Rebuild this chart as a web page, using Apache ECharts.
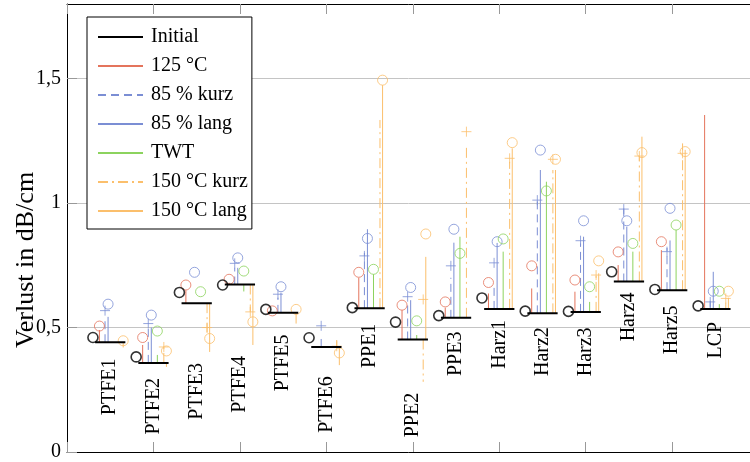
<!DOCTYPE html>
<html>
<head>
<meta charset="utf-8">
<script src="https://cdn.jsdelivr.net/npm/echarts@6/dist/echarts.min.js"></script>
<style>
html, body { margin: 0; padding: 0; background: #fff; }
#chart { width: 750px; height: 462px; }
</style>
</head>
<body>
<div id="chart"></div>
<script>
// Proben (x = 1..15)
const categories = ['PTFE1', 'PTFE2', 'PTFE3', 'PTFE4', 'PTFE5', 'PTFE6', 'PPE1', 'PPE2', 'PPE3',
  'Harz1', 'Harz2', 'Harz3', 'Harz4', 'Harz5', 'LCP'];
const yTicks = [0, 0.5, 1, 1.5];

// Initial: waagerechte Linie und Kreis
const initialLine = [0.441, 0.358, 0.598, 0.673, 0.559, 0.422, 0.578, 0.452, 0.539, 0.575, 0.557, 0.563, 0.685, 0.650, 0.575];
const initialMark = [0.460, 0.382, 0.641, 0.671, 0.573, 0.459, 0.580, 0.522, 0.548, 0.619, 0.566, 0.565, 0.724, 0.653, 0.587];

// Marker (Kreis / Plus) je Bedingung
const mark125 = [0.506, 0.460, 0.671, 0.694, 0.567, null, 0.722, 0.590, 0.603, 0.681, 0.748, 0.691, 0.804, 0.845, null];
const mark85k = [0.568, 0.516, null, 0.758, 0.634, 0.507, 0.788, 0.624, 0.748, 0.760, 1.012, 0.849, 0.976, 0.805, 0.603];
const mark85l = [0.594, 0.550, 0.722, 0.780, 0.664, null, 0.858, 0.661, 0.895, 0.845, 1.213, 0.929, 0.929, 0.979, 0.646];
const markTWT = [null, 0.486, 0.644, 0.727, null, null, 0.734, 0.527, 0.798, 0.856, 1.049, 0.664, 0.838, 0.912, 0.646];
const mark150k = [null, 0.422, 0.500, 0.563, null, 0.425, null, 0.613, 1.287, 1.180, 1.176, 0.711, 1.189, 1.200, 0.617];
const mark150l = [0.447, 0.406, 0.456, 0.523, 0.573, 0.398, 1.494, 0.876, null, 1.243, 1.176, 0.768, 1.203, 1.207, 0.646];

// Linienende (Linie geht von der Initial-Linie bis hierhin)
const stem125 = [0.490, 0.430, 0.650, 0.680, null, null, 0.700, 0.570, 0.580, 0.637, 0.657, 0.644, 0.751, 0.811, 1.354];
const stem85k = [0.543, 0.510, null, 0.740, 0.620, 0.460, 0.800, 0.600, 0.700, 0.670, 1.010, 0.838, 0.986, 0.820, 0.623];
const stem85l = [0.543, 0.500, null, 0.740, 0.640, null, 0.895, 0.610, 0.841, 0.840, 1.133, 0.865, 0.905, 0.850, 0.724];
const stemTWT = [null, 0.390, null, 0.645, null, null, 0.714, 0.470, 0.865, 0.805, 1.086, 0.603, 0.805, 0.892, 0.594];
const stem150k = [null, 0.430, 0.480, 0.563, null, 0.450, 1.334, 0.282, 1.227, 1.166, 1.133, 0.724, 1.190, 1.240, 0.600];
const stem150l = [0.420, 0.342, 0.402, 0.430, 0.516, 0.349, 1.474, 0.784, null, 1.220, 1.133, 0.718, 1.267, 1.214, 0.620];

const FONT = 'Liberation Serif';
const PLUS = 'path://M5,0L5,10M0,5L10,5';

// Bedingungen: Name, Farbe, Versatz, Linienart, Marker
const conditions = [
  { name: '125 °C', color: '#e4745c', off: -0.25, dash: 'solid', symbol: 'circle', mark: mark125, stem: stem125 },
  { name: '85 % kurz', color: '#7b8ed4', off: -0.12, dash: [8, 5], symbol: PLUS, mark: mark85k, stem: stem85k },
  { name: '85 % lang', color: '#7b8ed4', off: -0.05, dash: 'solid', symbol: 'circle', mark: mark85l, stem: stem85l },
  { name: 'TWT', color: '#8cd35e', off: 0.09, dash: 'solid', symbol: 'circle', mark: markTWT, stem: stemTWT },
  { name: '150 °C kurz', color: '#fbbf6c', off: 0.24, dash: [10, 4, 2, 4], symbol: PLUS, mark: mark150k, stem: stem150k },
  { name: '150 °C lang', color: '#fbbf6c', off: 0.30, dash: 'solid', symbol: 'circle', mark: mark150l, stem: stem150l }
];

function stemData(ends, off) {
  const d = [];
  ends.forEach((e, i) => {
    if (e == null) return;
    const x = i + 1 + off;
    d.push([x, initialLine[i]], [x, e], [x, '-']);
  });
  return d;
}
function markData(vals, off) {
  const d = [];
  vals.forEach((v, i) => { if (v != null) d.push([i + 1 + off, v]); });
  return d;
}

const series = [];
// Initial
const initSeg = [];
initialLine.forEach((b, i) => { initSeg.push([i + 1 - 0.35, b], [i + 1 + 0.35, b], [i + 1, '-']); });
series.push({
  name: 'Initial', type: 'line', data: initSeg, symbol: 'none', z: 4,
  lineStyle: { color: '#000', width: 2 }, itemStyle: { color: '#000' }
});
series.push({
  name: 'Initial-Marker', type: 'scatter', data: markData(initialMark, -0.4), z: 5,
  symbol: 'circle', symbolSize: 10,
  itemStyle: { color: 'rgba(0,0,0,0)', borderColor: '#000', borderWidth: 1.6 }
});
conditions.forEach(c => {
  series.push({
    name: c.name, type: 'line', data: stemData(c.stem, c.off), symbol: 'none', connectNulls: false,
    lineStyle: { color: c.color, width: 1, type: c.dash }, itemStyle: { color: c.color }
  });
  series.push({
    name: c.name + '-Marker', type: 'scatter', data: markData(c.mark, c.off), z: 3,
    symbol: c.symbol, symbolSize: 10,
    itemStyle: { color: 'rgba(0,0,0,0)', borderColor: c.color, borderWidth: 1 }
  });
});

// Beschriftung der Proben, unterhalb der tiefsten Markierung
const stemSets = conditions.map(c => c.stem);
const markSets = conditions.map(c => c.mark).concat([initialMark]);
series.push({
  name: 'Proben', type: 'custom', z: 6, clip: false,
  data: categories.map((c, i) => [i + 1, initialLine[i]]),
  renderItem: function (params, api) {
    const i = params.dataIndex;
    let low = api.coord([i + 1, initialLine[i]])[1];
    stemSets.forEach(a => { if (a[i] != null) low = Math.max(low, api.coord([i + 1, a[i]])[1]); });
    markSets.forEach(a => { if (a[i] != null) low = Math.max(low, api.coord([i + 1, a[i]])[1] + 5); });
    const x = api.coord([i + 1, 0])[0];
    return {
      type: 'text', x: x, y: low + 11, rotation: Math.PI / 2,
      style: {
        text: categories[i], fill: '#000', font: '20px "' + FONT + '"',
        fontSize: 20, fontFamily: FONT,
        textAlign: 'right', align: 'right', textVerticalAlign: 'middle', verticalAlign: 'middle'
      }
    };
  }
});

const xAxisBase = {
  type: 'value', min: 0, max: 15.8, interval: 2,
  axisLine: { show: true, onZero: false, lineStyle: { color: '#000', width: 1 } },
  axisTick: { show: true, inside: true, length: 10, lineStyle: { color: '#999' } },
  axisLabel: { show: false }, splitLine: { show: false }
};

const chart = echarts.init(document.getElementById('chart'));
chart.setOption({
  animation: false,
  grid: { left: 67, right: 0, top: 4, bottom: 10 },
  legend: {
    data: ['Initial'].concat(conditions.map(c => c.name)),
    orient: 'vertical', left: 87, top: 17,
    backgroundColor: '#fff', borderColor: '#000', borderWidth: 1,
    padding: [10, 4, 8, 10],
    itemWidth: 45, itemHeight: 12, itemGap: 9,
    // nur die Linie im Legendensymbol zeigen
    itemStyle: { color: 'rgba(0,0,0,0)', borderColor: 'rgba(0,0,0,0)', borderWidth: 0, opacity: 0 },
    textStyle: { fontFamily: FONT, fontSize: 20, lineHeight: 20, color: '#000', padding: [0, 0, 0, 3] }
  },
  xAxis: [
    Object.assign({ position: 'bottom' }, xAxisBase),
    Object.assign({ position: 'top' }, xAxisBase)
  ],
  yAxis: {
    type: 'value', min: 0, max: 1.8, interval: 0.5,
    axisLine: { show: true, lineStyle: { color: '#000', width: 1 } },
    axisTick: { show: true, inside: true, length: 10, lineStyle: { color: '#999' } },
    axisLabel: {
      showMaxLabel: false, margin: 6, color: '#000', fontFamily: FONT, fontSize: 20,
      formatter: v => (yTicks.indexOf(v) >= 0 ? String(v).replace('.', ',') : '')
    },
    splitLine: { show: true, lineStyle: { color: '#c4c4c4', width: 1 } }
  },
  graphic: [{
    type: 'text', x: 26, y: 260, rotation: Math.PI / 2,
    style: {
      text: 'Verlust in dB/cm', fill: '#000', font: '26px "' + FONT + '"',
      fontSize: 26, fontFamily: FONT,
      textAlign: 'center', align: 'center', textVerticalAlign: 'middle', verticalAlign: 'middle'
    }
  }],
  series: series
});
</script>
</body>
</html>
